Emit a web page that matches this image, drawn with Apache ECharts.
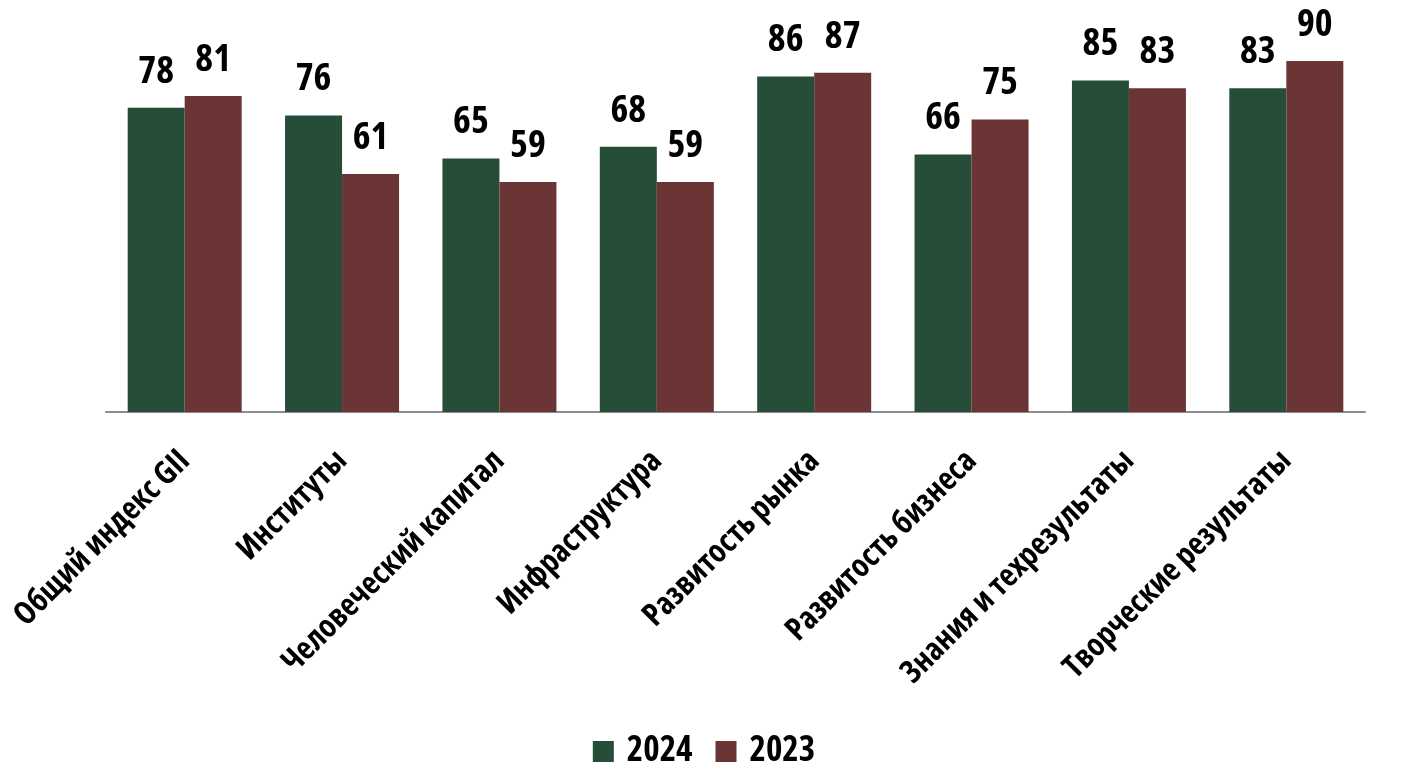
<!DOCTYPE html>
<html><head><meta charset="utf-8">
<script src="https://cdn.jsdelivr.net/npm/echarts@6/dist/echarts.min.js"></script>
<style>html,body{margin:0;padding:0;background:#fff}#c{width:1408px;height:784px}</style>
</head><body><div id="c"></div>
<script>
const categories = ['Общий индекс GII','Институты','Человеческий капитал','Инфраструктура','Развитость рынка','Развитость бизнеса','Знания и техрезультаты','Творческие результаты'];
const seriesNames = ['2024','2023'];
const values2024 = [78,76,65,68,86,66,85,83];
const values2023 = [81,61,59,59,87,75,83,90];
const FONT = '"Open Sans"';
const FW = 'bold condensed';
const chart = echarts.init(document.getElementById('c'));
const valLabel = {show:true,position:'top',distance:17,fontFamily:FONT,fontWeight:FW,fontSize:38,color:'#000'};
chart.setOption({
  animation:false,
  grid:{left:106,right:43,top:22,bottom:372,containLabel:false,outerBoundsMode:'none'},
  legend:{bottom:10,left:'center',itemWidth:21,itemHeight:21,itemGap:23,icon:'rect',
    textStyle:{fontFamily:FONT,fontWeight:FW,fontSize:35,color:'#000',padding:[0,0,0,8]},
    data:seriesNames},
  xAxis:{type:'category',data:categories,
    axisLine:{lineStyle:{color:'#8c8c8c',width:2}},axisTick:{show:false},
    axisLabel:{rotate:45,margin:44,interval:0,fontFamily:FONT,fontWeight:FW,fontSize:32,color:'#000'}},
  yAxis:{type:'value',min:0,max:100,show:false,splitLine:{show:false}},
  series:[
    {name:seriesNames[0],type:'bar',data:values2024,barWidth:57,barGap:'0%',itemStyle:{color:'#264d38'},label:valLabel},
    {name:seriesNames[1],type:'bar',data:values2023,barWidth:57,barGap:'0%',itemStyle:{color:'#6b3536'},label:valLabel}
  ]
});
</script></body></html>
